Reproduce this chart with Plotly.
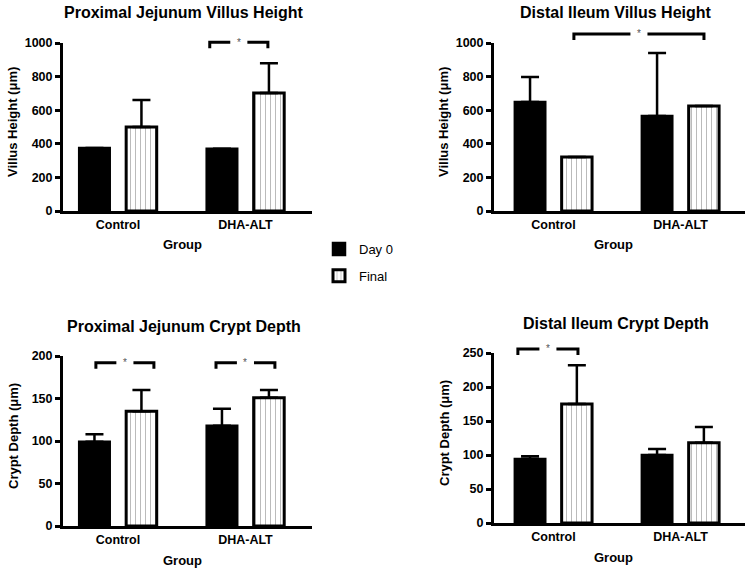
import plotly.graph_objects as go

W, H = 751, 571

groups = ["Control", "DHA-ALT"]
series = ["Day 0", "Final"]

pj_vh_day0 = [375, 370]
pj_vh_day0_err = [0, 0]
pj_vh_final = [500, 702]
pj_vh_final_err = [160, 178]

di_vh_day0 = [649, 565]
di_vh_day0_err = [149, 375]
di_vh_final = [321, 625]
di_vh_final_err = [0, 0]

pj_cd_day0 = [99, 118]
pj_cd_day0_err = [9, 20]
pj_cd_final = [135, 151]
pj_cd_final_err = [25, 9]

di_cd_day0 = [94, 100]
di_cd_day0_err = [4, 9]
di_cd_final = [175, 118]
di_cd_final_err = [57, 23]

# significance brackets: (x_start, x_end in category units, y level in data units)
pj_vh_brackets = [(0.72, 1.176, 1005)]
di_vh_brackets = [(0.161, 1.185, 1054)]
pj_cd_brackets = [(-0.173, 0.282, 192), (0.769, 1.231, 192)]
di_cd_brackets = [(-0.280, 0.193, 256)]

panels = [
    dict(title="Proximal Jejunum Villus Height", ytitle="Villus Height (μm)", ymax=1000, dtick=200,
         d0=pj_vh_day0, d0e=pj_vh_day0_err, f=pj_vh_final, fe=pj_vh_final_err, br=pj_vh_brackets,
         xd=[55, 312], yd=[211, 43], xr=[-0.431, 1.522]),
    dict(title="Distal Ileum Villus Height", ytitle="Villus Height (μm)", ymax=1000, dtick=200,
         d0=di_vh_day0, d0e=di_vh_day0_err, f=di_vh_final, fe=di_vh_final_err, br=di_vh_brackets,
         xd=[486, 745], yd=[211, 43], xr=[-0.468, 1.508]),
    dict(title="Proximal Jejunum Crypt Depth", ytitle="Crypt Depth (μm)", ymax=200, dtick=50,
         d0=pj_cd_day0, d0e=pj_cd_day0_err, f=pj_cd_final, fe=pj_cd_final_err, br=pj_cd_brackets,
         xd=[55, 312], yd=[526, 356], xr=[-0.431, 1.522]),
    dict(title="Distal Ileum Crypt Depth", ytitle="Crypt Depth (μm)", ymax=250, dtick=50,
         d0=di_cd_day0, d0e=di_cd_day0_err, f=di_cd_final, fe=di_cd_final_err, br=di_cd_brackets,
         xd=[486, 745], yd=[523, 353], xr=[-0.468, 1.508]),
]

FONT = "Liberation Sans, Arial, sans-serif"
AXIS_SHIFT = 8  # plotly draws the y-axis line this many px left of the x domain start

fig = go.Figure()
annotations = []
shapes = []
layout_axes = {}

for i, p in enumerate(panels):
    n = i + 1
    xa = "x" if n == 1 else f"x{n}"
    ya = "y" if n == 1 else f"y{n}"
    xkey = "xaxis" if n == 1 else f"xaxis{n}"
    ykey = "yaxis" if n == 1 else f"yaxis{n}"

    fig.add_trace(go.Bar(
        x=groups, y=p["d0"], name=series[0], xaxis=xa, yaxis=ya,
        marker=dict(color="black", line=dict(color="black", width=2.5)),
        error_y=dict(type="data", symmetric=False, array=p["d0e"], arrayminus=[0, 0],
                     color="black", thickness=2.5, width=9),
        showlegend=(n == 1), legendgroup="d0",
    ))
    fig.add_trace(go.Bar(
        x=groups, y=p["f"], name=series[1], xaxis=xa, yaxis=ya,
        marker=dict(color="white", line=dict(color="black", width=3),
                    pattern=dict(shape="|", fgcolor="#777777", bgcolor="white", size=5, solidity=0.2)),
        error_y=dict(type="data", symmetric=False, array=p["fe"], arrayminus=[0, 0],
                     color="black", thickness=2.5, width=9),
        showlegend=(n == 1), legendgroup="f",
    ))

    ax_px, end_px = p["xd"]
    x0, x1 = (ax_px + AXIS_SHIFT) / W, end_px / W
    y0, y1 = 1 - p["yd"][0] / H, 1 - p["yd"][1] / H
    layout_axes[xkey] = dict(
        domain=[x0, x1], anchor=ya, type="category", range=p["xr"],
        showline=True, linecolor="black", linewidth=3, ticks="", showgrid=False,
        tickfont=dict(family=FONT, size=12.5, color="black", weight="bold"), zeroline=False,
    )
    layout_axes[ykey] = dict(
        domain=[y0, y1], anchor=xa, range=[0, p["ymax"]], dtick=p["dtick"],
        showline=True, linecolor="black", linewidth=3, ticks="outside", ticklen=5,
        tickwidth=2.5, tickcolor="black", showgrid=False, zeroline=False,
        tickfont=dict(family=FONT, size=12.5, color="black", weight="bold"),
    )

    cx = (ax_px + end_px) / 2 / W
    annotations.append(dict(text=p["title"], xref="paper", yref="paper", x=cx,
                            y=y1 + 30 / H, showarrow=False, xanchor="center", yanchor="middle",
                            font=dict(family=FONT, size=16, color="black", weight="bold")))
    annotations.append(dict(text=p["ytitle"], xref="paper", yref="paper", x=(ax_px - 42) / W,
                            y=(y0 + y1) / 2 + 5 / H, showarrow=False, textangle=-90,
                            xanchor="center", yanchor="middle",
                            font=dict(family=FONT, size=13, color="black", weight="bold")))
    annotations.append(dict(text="Group", xref="paper", yref="paper", x=(ax_px + 127) / W,
                            y=y0 - 34 / H, showarrow=False, xanchor="center", yanchor="middle",
                            font=dict(family=FONT, size=13, color="black", weight="bold")))

    for (bx0, bx1, by) in p["br"]:
        fy = by / p["ymax"]
        leg = 6 / (p["yd"][0] - p["yd"][1])
        mid = (bx0 + bx1) / 2
        gap = 0.067
        shapes.append(dict(type="path", xref=xa, yref=f"{ya} domain",
                           path=f"M {bx0},{fy - leg} L {bx0},{fy} L {mid - gap},{fy}",
                           line=dict(color="black", width=3)))
        shapes.append(dict(type="path", xref=xa, yref=f"{ya} domain",
                           path=f"M {mid + gap},{fy} L {bx1},{fy} L {bx1},{fy - leg}",
                           line=dict(color="black", width=3)))
        annotations.append(dict(text="*", xref=xa, yref=f"{ya} domain", x=mid, y=fy,
                                showarrow=False, xanchor="center", yanchor="middle",
                                font=dict(family=FONT, size=10, color="#555555")))

fig.update_layout(
    width=W, height=H,
    margin=dict(l=0, r=0, t=0, b=0, autoexpand=False),
    paper_bgcolor="white", plot_bgcolor="white",
    barmode="group", bargap=0.263, bargroupgap=0.35,
    showlegend=True,
    legend=dict(x=319 / W, y=1 - 234 / H, xanchor="left", yanchor="top",
                font=dict(family=FONT, size=13, color="black"),
                traceorder="grouped", tracegroupgap=7, bgcolor="rgba(0,0,0,0)"),
    annotations=annotations,
    shapes=shapes,
    **layout_axes,
)

fig.write_html("out.html", config={"displayModeBar": False},
               post_script="document.body.style.margin='0px';document.body.style.overflow='hidden';")
